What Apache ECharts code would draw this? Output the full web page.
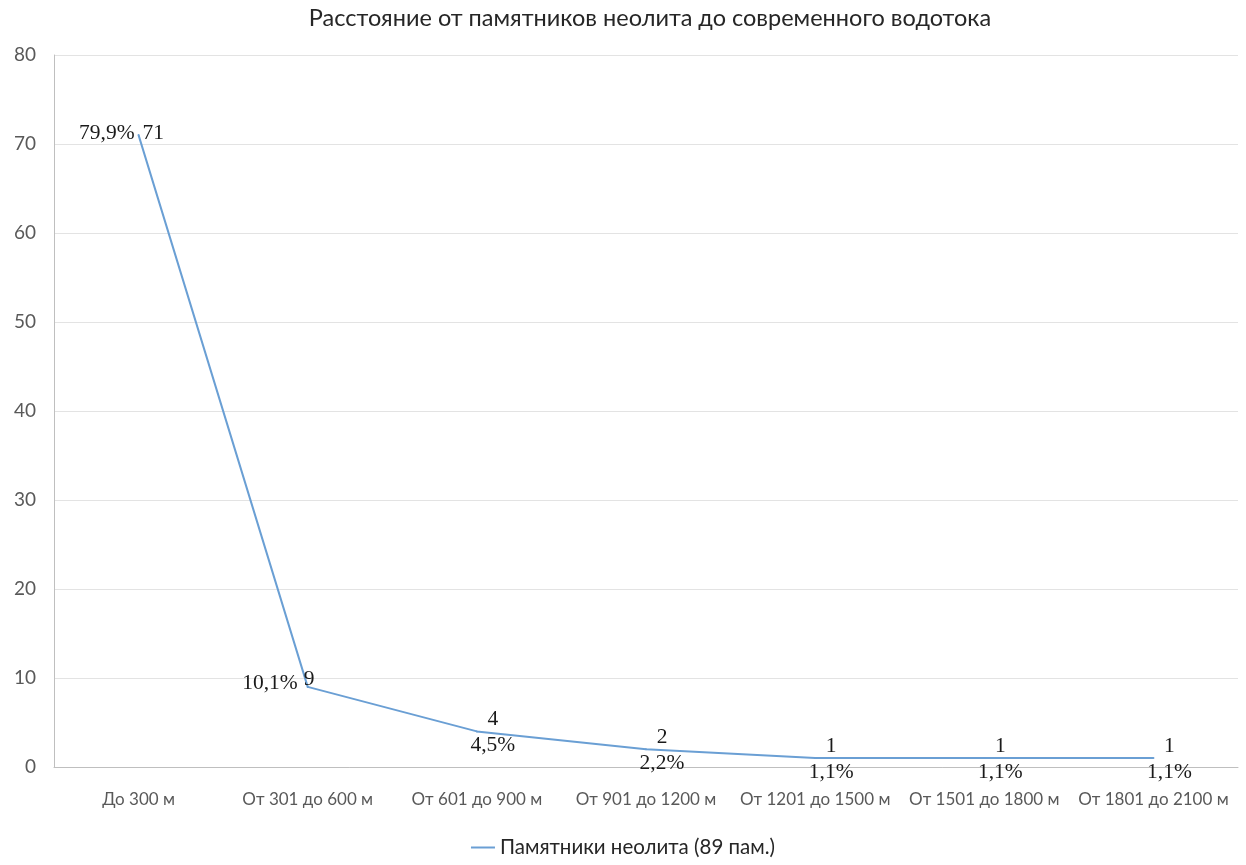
<!DOCTYPE html>
<html>
<head>
<meta charset="utf-8">
<script src="https://cdn.jsdelivr.net/npm/echarts@6/dist/echarts.min.js"></script>
<style>html,body{margin:0;padding:0;background:#fff}#c{width:1246px;height:865px}</style>
</head>
<body>
<div id="c"></div>
<script>
const categories = ['До 300 м','От 301 до 600 м','От 601 до 900 м','От 901 до 1200 м','От 1201 до 1500 м','От 1501 до 1800 м','От 1801 до 2100 м'];
const counts = [71, 9, 4, 2, 1, 1, 1];
const percents = ['79,9%','10,1%','4,5%','2,2%','1,1%','1,1%','1,1%'];
const seriesName = 'Памятники неолита (89 пам.)';
const titleText = 'Расстояние от памятников неолита до современного водотока';
const yTicks = {min: 0, max: 80, interval: 10};

const lineColor = '#6a9fd4';
const labelFont = {fontFamily: 'Liberation Serif', fontSize: 21.5, color: '#1a1a1a'};
const valueData = counts.map((v, i) => {
  let label;
  if (i === 0) label = {position: 'right', offset: [-2, -2]};
  else if (i === 1) label = {position: 'right', offset: [-10, -8]};
  else label = {position: 'top', offset: [16, 5]};
  return {value: v, label: Object.assign({show: true}, labelFont, label)};
});
const pctData = counts.map((v, i) => {
  let label;
  if (i === 0) label = {position: 'left', offset: [2, -2]};
  else if (i === 1) label = {position: 'left', offset: [-4, -4]};
  else label = {position: 'bottom', offset: [16, -3]};
  return {value: v, label: Object.assign({show: true, formatter: percents[i]}, labelFont, label)};
});

const chart = echarts.init(document.getElementById('c'), null, {renderer: 'canvas'});
chart.setOption({
  animation: false,
  backgroundColor: '#fff',
  title: {
    text: titleText, left: 645, top: 1, textAlign: 'center',
    textStyle: {fontFamily: 'Lato', fontSize: 23.5, fontWeight: 'normal', color: '#262626'}
  },
  legend: {
    data: [{name: seriesName, itemStyle: {color: lineColor}}], bottom: 2, left: 'center',
    itemWidth: 24, itemHeight: 2, icon: 'rect', itemGap: 4,
    textStyle: {fontFamily: 'Lato', fontSize: 20.5, color: '#262626'}
  },
  grid: {left: 54, right: 8, top: 55, bottom: 98, containLabel: false},
  xAxis: {
    type: 'category', data: categories, boundaryGap: true,
    axisLine: {lineStyle: {color: '#bfbfbf'}},
    axisTick: {show: false},
    axisLabel: {interval: 0, fontFamily: 'Lato', fontSize: 17, color: '#595959', margin: 24}
  },
  yAxis: {
    type: 'value', min: yTicks.min, max: yTicks.max, interval: yTicks.interval,
    axisLine: {show: true, lineStyle: {color: '#bfbfbf'}},
    axisTick: {show: false},
    splitLine: {lineStyle: {color: '#e3e3e3'}},
    axisLabel: {fontFamily: 'Lato', fontSize: 19, color: '#595959', margin: 18}
  },
  series: [
    {
      name: seriesName, type: 'line', data: valueData, smooth: false,
      showSymbol: true, symbol: 'circle', symbolSize: 2,
      lineStyle: {color: lineColor, width: 2},
      itemStyle: {color: lineColor}
    },
    {
      name: 'pct', type: 'line', data: pctData, silent: true,
      showSymbol: true, symbol: 'circle', symbolSize: 2,
      lineStyle: {width: 0, color: 'transparent'}, itemStyle: {color: 'transparent'}
    }
  ]
});
</script>
</body>
</html>
